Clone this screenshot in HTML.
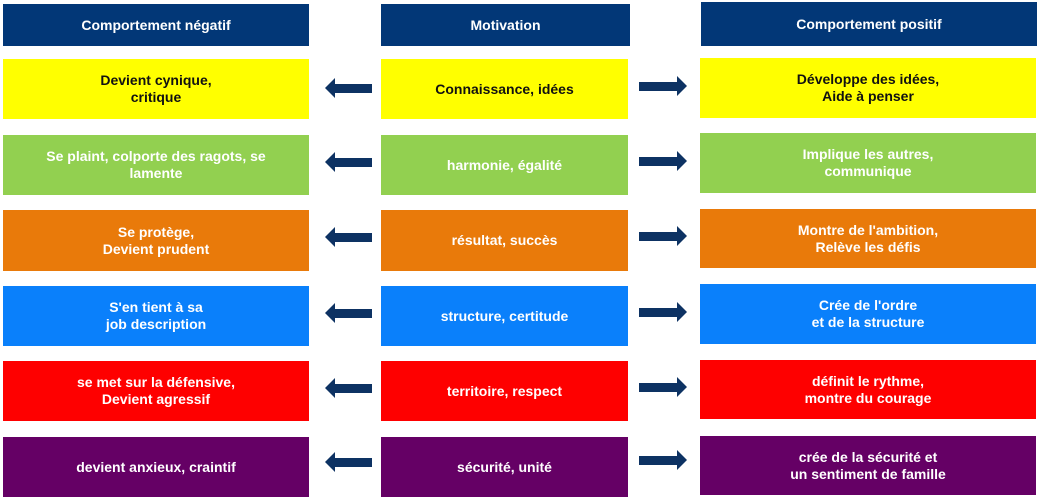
<!DOCTYPE html>
<html><head><meta charset="utf-8"><style>
body{margin:0;width:1042px;height:500px;background:#fff;position:relative;overflow:hidden;font-family:"Liberation Sans",Arial,sans-serif;}
.b{position:absolute;display:flex;align-items:center;justify-content:center;text-align:center;color:#fff;font-weight:bold;font-size:14px;line-height:17px;}
.h{background:#023777;}
.y{background:#ffff00;color:#111;}
.g{background:#92d050;}
.o{background:#e97a0a;}
.u{background:#0a80fb;}
.r{background:#fe0000;}
.p{background:#650065;}
svg{position:absolute;}
</style></head><body>
<div class="b h" style="left:3px;top:4px;width:306px;height:42px">Comportement négatif</div>
<div class="b h" style="left:381px;top:4px;width:249px;height:42px">Motivation</div>
<div class="b h" style="left:701px;top:2px;width:336px;height:44px">Comportement positif</div>

<div class="b y" style="left:3px;top:59px;width:306px;height:60px">Devient cynique,<br>critique</div>
<div class="b y" style="left:381px;top:59px;width:247px;height:60px">Connaissance, idées</div>
<div class="b y" style="left:700px;top:58px;width:336px;height:60px">Développe des idées,<br>Aide à penser</div>

<div class="b g" style="left:3px;top:135px;width:306px;height:60px">Se plaint, colporte des ragots, se<br>lamente</div>
<div class="b g" style="left:381px;top:135px;width:247px;height:60px">harmonie, égalité</div>
<div class="b g" style="left:700px;top:133px;width:336px;height:60px">Implique les autres,<br>communique</div>

<div class="b o" style="left:3px;top:210px;width:306px;height:61px">Se protège,<br>Devient prudent</div>
<div class="b o" style="left:381px;top:210px;width:247px;height:61px">résultat, succès</div>
<div class="b o" style="left:700px;top:209px;width:336px;height:59px">Montre de l'ambition,<br>Relève les défis</div>

<div class="b u" style="left:3px;top:286px;width:306px;height:60px">S'en tient à sa<br>job description</div>
<div class="b u" style="left:381px;top:286px;width:247px;height:60px">structure, certitude</div>
<div class="b u" style="left:700px;top:284px;width:336px;height:60px">Crée de l'ordre<br>et de la structure</div>

<div class="b r" style="left:3px;top:361px;width:306px;height:60px">se met sur la défensive,<br>Devient agressif</div>
<div class="b r" style="left:381px;top:361px;width:247px;height:60px">territoire, respect</div>
<div class="b r" style="left:700px;top:360px;width:336px;height:59px">définit le rythme,<br>montre du courage</div>

<div class="b p" style="left:3px;top:437px;width:306px;height:60px">devient anxieux, craintif</div>
<div class="b p" style="left:381px;top:437px;width:247px;height:60px">sécurité, unité</div>
<div class="b p" style="left:700px;top:436px;width:336px;height:59px">crée de la sécurité et<br>un sentiment de famille</div>

<svg width="1042" height="500" style="left:0;top:0">
<defs>
<g id="la"><polygon points="325,0 335,-10 335,-4 372,-4 372,5 335,5 335,10" fill="#0d3263"/></g>
<g id="ra"><polygon points="687,0 677,-10 677,-4 639,-4 639,5 677,5 677,10" fill="#0d3263"/></g>
</defs>
<use href="#la" y="88"/><use href="#ra" y="86"/>
<use href="#la" y="162"/><use href="#ra" y="161"/>
<use href="#la" y="237"/><use href="#ra" y="236"/>
<use href="#la" y="313"/><use href="#ra" y="312"/>
<use href="#la" y="388"/><use href="#ra" y="387"/>
<use href="#la" y="462"/><use href="#ra" y="460"/>
</svg>
</body></html>
